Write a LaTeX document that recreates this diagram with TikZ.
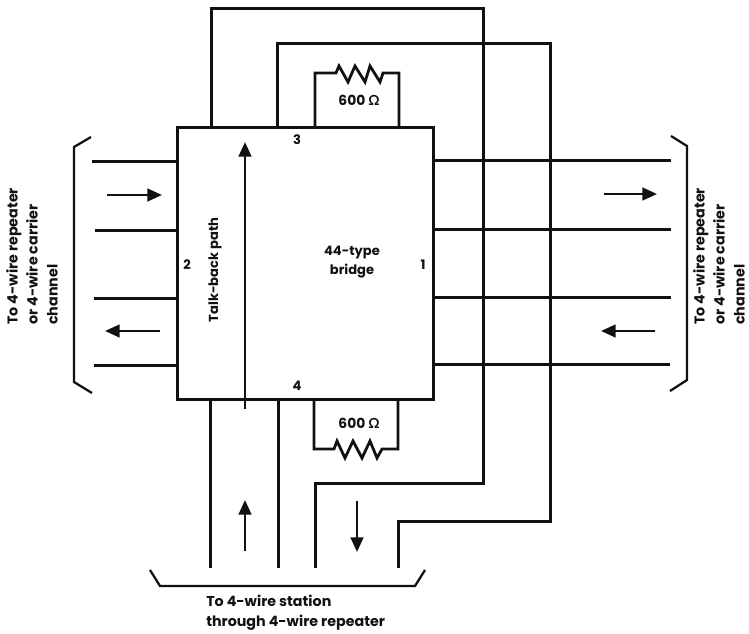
\documentclass[tikz,border=0pt]{standalone}
\usepackage{fontspec}
\setmainfont{Poppins}
\newfontfamily\omegafont{Lato}
\usetikzlibrary{arrows.meta}
\definecolor{ink}{HTML}{111111}
\tikzset{
  wire/.style={draw=ink, line width=2.25pt, line join=miter},
  zigzag/.style={draw=ink, line width=2.1pt, line join=miter},
  brace/.style={draw=ink, line width=1.7pt},
  flow/.style={draw=ink, line width=1.9pt, -{Triangle[length=11pt,width=9.5pt]}},
  lbl/.style={text=ink, font=\fontsize{10.7}{15}\selectfont\bfseries, align=left, inner sep=0pt},
  inlbl/.style={text=ink, font=\fontsize{9.8}{14}\selectfont\bfseries, align=center, inner sep=0pt},
  ohm/.style={text=ink, font=\fontsize{10.4}{14}\selectfont\bfseries, inner sep=0pt},
  num/.style={text=ink, font=\fontsize{9.8}{11}\selectfont\bfseries, inner sep=0pt}
}

\begin{document}
\begin{tikzpicture}[x=0.75pt, y=-0.75pt]
  \useasboundingbox (0,0) rectangle (749,633);

  % Bridge box
  \node[wire, rectangle, minimum width=192pt, minimum height=204pt, inner sep=0pt] (bridge) at (305,263) {};

  % Line pairs left and right of the box
  \foreach \n/\xa/\y/\xb/\yb in {1/92/161/671/160, 2/95/230/671/229, 3/94/298/671/297, 4/94/365/670/364} {
    \coordinate (lend\n) at (\xa,\y);
    \coordinate (lbox\n) at (177,\y);
    \coordinate (rend\n) at (\xb,\yb);
    \coordinate (rbox\n) at (433,\yb);
    \draw[wire] (lend\n) -- (lbox\n);
    \draw[wire] (rbox\n) -- (rend\n);
  }

  % Wires going over the top and round to the bottom
  \coordinate (top1) at (211,127);
  \coordinate (top2) at (277,127);
  \coordinate (bot1) at (315,568);
  \coordinate (bot2) at (398,568);
  \draw[wire] (top1) -- (211,8) -- (483,8) -- (483,483) -- (315,483) -- (bot1);
  \draw[wire] (top2) -- (277,43) -- (550,43) -- (550,521) -- (398,521) -- (bot2);

  % Wires to the station
  \foreach \n/\x in {3/210, 4/278} {
    \coordinate (bbox\n) at (\x,399);
    \coordinate (bot\n) at (\x,568);
    \draw[wire] (bbox\n) -- (bot\n);
  }

  % 600 ohm resistors
  \coordinate (rta) at (315,127);
  \coordinate (rtb) at (399,127);
  \coordinate (rba) at (314,399);
  \coordinate (rbb) at (398,399);
  \draw[zigzag] (rta) -- (315,73) -- (336,73) -- (339,66) -- (348,82) -- (355,66)
    -- (365,82) -- (370,66) -- (380,82) -- (383,73) -- (399,73) -- (rtb);
  \draw[zigzag] (rba) -- (314,449) -- (334,449) -- (337,441) -- (345,458) -- (353,441)
    -- (362,458) -- (370,441) -- (377,458) -- (382,449) -- (398,449) -- (rbb);

  % Brackets
  \draw[brace] (91,137) -- (74,147) -- (74,382) -- (92,393);
  \draw[brace] (671,136) -- (687,146) -- (687,380) -- (670,391);
  \draw[brace] (150,570) -- (160,586) -- (415,586) -- (425,570);

  % Direction arrows
  \foreach \xa/\ya/\xb/\yb in {107/195/162/195, 160/331/105/331, 604/194/657/194,
    655/331/601/331, 245/551/245/500, 357/501/357/552, 245/409/245/142} {
    \draw[flow] (\xa,\ya) -- (\xb,\yb);
  }

  % Labels
  \node[num] (port1) at (423,265) {1};
  \node[num] (port2) at (187,265) {2};
  \node[num] (port3) at (297,140) {3};
  \node[num] (port4) at (297,386) {4};
  \node[inlbl] (name) at (352,262) {44-type\\bridge};
  \node[inlbl, rotate=90] (talk) at (215,270) {Talk-back path};
  \node[ohm] (rtop) at (359,100) {600 {\omegafont Ω}};
  \node[ohm] (rbot) at (359,423) {600 {\omegafont Ω}};
  \node[lbl, rotate=90, anchor=north west] (left) at (6,325) {To 4-wire repeater\\or 4-wire carrier\\channel};
  \node[lbl, rotate=90, anchor=north west] (right) at (693,325) {To 4-wire repeater\\or 4-wire carrier\\channel};
  \node[lbl, anchor=north west] (station) at (206,595) {To 4-wire station\\through 4-wire repeater};
\end{tikzpicture}
\end{document}
